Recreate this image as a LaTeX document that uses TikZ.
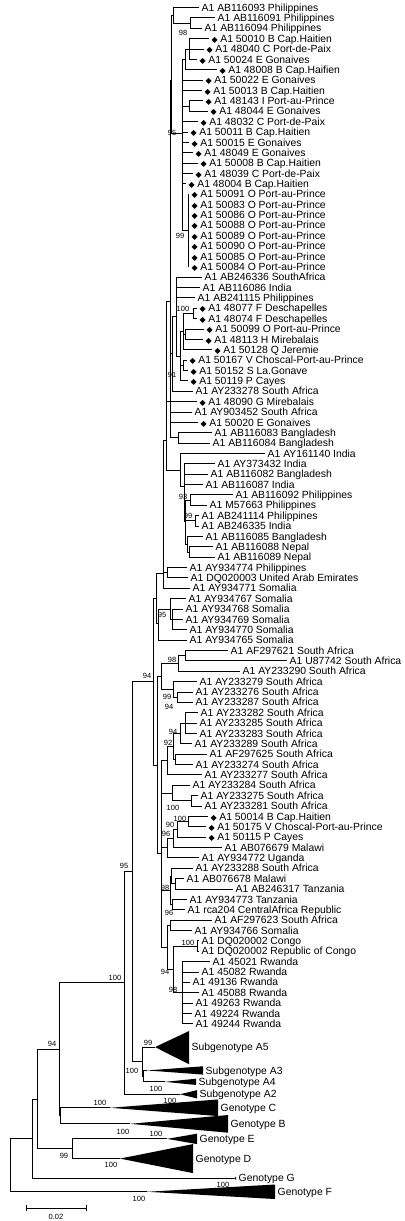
\documentclass[tikz,border=0pt]{standalone}
\usepackage{fontspec}
\setmainfont{Liberation Sans}
\newfontfamily\symbfont{DejaVu Sans}
\newcommand{\hd}{{\symbfont\fontsize{8}{8}\selectfont ◆}\hspace{2.5pt}}
\tikzset{
  %% branches of the tree
  br/.style    = {draw=black, line width=0.8pt},
  %% taxon labels at the tips
  tip/.style   = {anchor=west, inner xsep=2.5pt, inner ysep=0pt,
                  text height=7.4pt, text depth=0pt,
                  font=\fontsize{10.4}{10.4}\selectfont},
  %% bootstrap values
  bs/.style    = {inner sep=0pt, font=\fontsize{7.5}{7.5}\selectfont},
  %% collapsed clades
  clade/.style = {fill=black},
}
\begin{document}
\begin{tikzpicture}[x=1pt, y=-10.37pt]
\useasboundingbox (0,-0.723) rectangle (404,117.02);

%% tips, one per row
\foreach \i/\x/\t in {
  0/199/A1 AB116093 Philippines, 1/215/A1 AB116091 Philippines,
  2/202/A1 AB116094 Philippines, 3/209/\hd A1 50010 B Cap.Haitien,
  4/204/\hd A1 48040 C Port-de-Paix, 5/197/\hd A1 50024 E Gonaives,
  6/217/\hd A1 48008 B Cap.Haifien, 7/203/\hd A1 50022 E Gonaives,
  8/202/\hd A1 50013 B Cap.Haitien, 9/203/\hd A1 48143 I Port-au-Prince,
  10/208/\hd A1 48044 E Gonaives, 11/198/\hd A1 48032 C Port-de-Paix,
  12/188/\hd A1 50011 B Cap.Haitien, 13/189/\hd A1 50015 E Gonaives,
  14/193/\hd A1 48049 E Gonaives, 15/198/\hd A1 50008 B Cap.Haitien,
  16/193/\hd A1 48039 C Port-de-Paix, 17/186/\hd A1 48004 B Cap.Haitien,
  18/189/\hd A1 50091 O Port-au-Prince, 19/189/\hd A1 50083 O Port-au-Prince,
  20/189/\hd A1 50086 O Port-au-Prince, 21/189/\hd A1 50088 O Port-au-Prince,
  22/189/\hd A1 50089 O Port-au-Prince, 23/189/\hd A1 50090 O Port-au-Prince,
  24/189/\hd A1 50085 O Port-au-Prince, 25/189/\hd A1 50084 O Port-au-Prince,
  26/202/A1 AB246336 SouthAfrica, 27/200/A1 AB116086 India,
  28/195/A1 AB241115 Philippines, 29/197/\hd A1 48077 F Deschapelles,
  30/197/\hd A1 48074 F Deschapelles, 31/204/\hd A1 50099 O Port-au-Prince,
  32/203/\hd A1 48113 H Mirebalais, 33/212/\hd A1 50128 Q Jeremie,
  34/187/\hd A1 50167 V Choscal-Port-au-Prince, 35/188/\hd A1 50152 S La.Gonave,
  36/188/\hd A1 50119 P Cayes, 37/193/A1 AY233278 South Africa,
  38/197/\hd A1 48090 G Mirebalais, 39/192/A1 AY903452 South Africa,
  40/198/\hd A1 50020 E Gonaives, 41/212/A1 AB116083 Bangladesh,
  42/210/A1 AB116084 Bangladesh, 43/265/A1 AY161140 India,
  44/215/A1 AY373432 India, 45/208/A1 AB116082 Bangladesh,
  46/203/A1 AB116087 India, 47/233/A1 AB116092 Philippines,
  48/207/A1 M57663 Philippines, 49/199/A1 AB241114 Philippines,
  50/199/A1 AB246335 India, 51/203/A1 AB116085 Bangladesh,
  52/213/A1 AB116088 Nepal, 53/215/A1 AB116089 Nepal,
  54/187/A1 AY934774 Philippines, 55/188/A1 DQ020003 United Arab Emirates,
  56/190/A1 AY934771 Somalia, 57/186/A1 AY934767 Somalia,
  58/183/A1 AY934768 Somalia, 59/183/A1 AY934769 Somalia,
  60/187/A1 AY934770 Somalia, 61/187/A1 AY934765 Somalia,
  62/228/A1 AF297621 South Africa, 63/287/A1 U87742 South Africa,
  64/240/A1 AY233290 South Africa, 65/197/A1 AY233279 South Africa,
  66/193/A1 AY233276 South Africa, 67/193/A1 AY233287 South Africa,
  68/198/A1 AY233282 South Africa, 69/197/A1 AY233285 South Africa,
  70/197/A1 AY233283 South Africa, 71/192/A1 AY233289 South Africa,
  72/207/A1 AF297625 South Africa, 73/193/A1 AY233274 South Africa,
  74/202/A1 AY233277 South Africa, 75/190/A1 AY233284 South Africa,
  76/198/A1 AY233275 South Africa, 77/202/A1 AY233281 South Africa,
  78/208/\hd A1 50014 B Cap.Haitien, 79/206/\hd A1 50175 V Choscal-Port-au-Prince,
  80/206/\hd A1 50115 P Cayes, 81/222/A1 AB076679 Malawi,
  82/199/A1 AY934772 Uganda, 83/193/A1 AY233288 South Africa,
  84/184/A1 AB076678 Malawi, 85/233/A1 AB246317 Tanzania,
  86/187/A1 AY934773 Tanzania, 87/185/A1 rca204 CentralAfrica Republic,
  88/212/A1 AF297623 South Africa, 89/192/A1 AY934766 Somalia,
  90/199/A1 DQ020002 Congo, 91/199/A1 DQ020002 Republic of Congo,
  92/210/A1 45021 Rwanda, 93/199/A1 45082 Rwanda,
  94/190/A1 49136 Rwanda, 95/199/A1 45088 Rwanda,
  96/193/A1 49263 Rwanda, 97/192/A1 49224 Rwanda,
  98/193/A1 49244 Rwanda}
  \node[tip] (t\i) at (\x,\i) {\t};

%% collapsed clades
\coordinate (a5) at (155,100.25);
\fill[clade] (a5) -- (189,98.7) -- (189,101.9) -- cycle;
\node[tip] (la5) at (189,100.25) {Subgenotype A5};
\coordinate (a3) at (147,102.5);
\fill[clade] (a3) -- (203,102.1) -- (203,102.9) -- cycle;
\node[tip] (la3) at (203,102.5) {Subgenotype A3};
\coordinate (a4) at (165,103.6);
\fill[clade] (a4) -- (196,103.3) -- (196,103.9) -- cycle;
\node[tip] (la4) at (196,103.6) {Subgenotype A4};
\coordinate (a2) at (180,104.8);
\fill[clade] (a2) -- (197,104.4) -- (197,105.2) -- cycle;
\node[tip] (la2) at (197,104.8) {Subgenotype A2};
\coordinate (gc) at (110,106.1);
\fill[clade] (gc) -- (218,105.3) -- (218,106.9) -- cycle;
\node[tip] (lgc) at (218,106.1) {Genotype C};
\coordinate (gb) at (130,107.65);
\fill[clade] (gb) -- (228,106.8) -- (228,108.5) -- cycle;
\node[tip] (lgb) at (228,107.65) {Genotype B};
\coordinate (ge) at (167,109.1);
\fill[clade] (ge) -- (197,108.6) -- (197,109.6) -- cycle;
\node[tip] (lge) at (197,109.1) {Genotype E};
\coordinate (gd) at (120,111.0);
\fill[clade] (gd) -- (193,109.6) -- (193,112.4) -- cycle;
\node[tip] (lgd) at (193,111.0) {Genotype D};
\coordinate (gg) at (234,112.9);
\fill[clade] (gg) -- (236,112.75) -- (236,113.05) -- cycle;
\node[tip] (lgg) at (236,112.9) {Genotype G};
\coordinate (gf) at (147,114.2);
\fill[clade] (gf) -- (275,113.5) -- (275,114.9) -- cycle;
\node[tip] (lgf) at (275,114.2) {Genotype F};

%% internal nodes
\coordinate (p2) at (190,1.5);      \coordinate (p1) at (173,0.75);
\coordinate (h1a) at (189,4);       \coordinate (h1) at (185,5);
\coordinate (h2) at (189,9.5);      \coordinate (ho) at (188,21.5);
\coordinate (h) at (182,12.1);      \coordinate (u1) at (171,7.0);
\coordinate (des) at (193,29.5);    \coordinate (m185) at (185,31.5);
\coordinate (d183) at (183,31.25);  \coordinate (v183) at (183,34.5);
\coordinate (e180) at (180,33.6);   \coordinate (f176) at (176,29.8);
\coordinate (g172) at (172,33.4);   \coordinate (b170) at (170,28.3);
\coordinate (bd) at (178,41.5);
\coordinate (i4) at (190,47.5);     \coordinate (i5) at (195,49.5);
\coordinate (i7) at (189,52.5);     \coordinate (i6) at (187,51.75);
\coordinate (i3) at (185,49.6);     \coordinate (i2) at (184,46.2);
\coordinate (i1) at (180,44.6);     \coordinate (m166) at (166,41.7);
\coordinate (ae) at (167,54.5);     \coordinate (m163) at (163,54.6);
\coordinate (s2) at (172,59);       \coordinate (s1) at (170,58);
\coordinate (som) at (158,59.4);    \coordinate (up) at (156,57.0);
\coordinate (k1) at (185,62.5);     \coordinate (k98) at (178,63.25);
\coordinate (q2) at (177,66.5);     \coordinate (q) at (173,65.75);
\coordinate (kq) at (161,64.5);
\coordinate (r1) at (185,69);       \coordinate (r94) at (180,70);
\coordinate (r2) at (175,72.5);     \coordinate (r92) at (173,71.25);
\coordinate (r167) at (167,72.6);
\coordinate (w) at (191,76.5);      \coordinate (n172) at (172,75.75);
\coordinate (x100) at (188,78.5);   \coordinate (x90) at (177,79.25);
\coordinate (x96) at (173,80.1);    \coordinate (x167) at (167,81);
\coordinate (z2) at (175,84.5);     \coordinate (z1) at (171,83.75);
\coordinate (z3) at (172,86.5);     \coordinate (z) at (170,85.1);
\coordinate (cy1) at (170,88.5);    \coordinate (cg) at (197,90.5);
\coordinate (rw) at (182,95);       \coordinate (cr) at (173,92.75);
\coordinate (cy) at (167,90.6);     \coordinate (low) at (161,81.6);
\coordinate (n157) at (157,73.05);  \coordinate (a1) at (153,65.0);
\coordinate (na34) at (143.3,103.05); \coordinate (na345) at (142,101.65);
\coordinate (n132) at (132,83.3);   \coordinate (n124) at (124,94.05);
\coordinate (bc) at (60,106.87);    \coordinate (x59) at (59,100.46);
\coordinate (ed) at (72,110.05);    \coordinate (n37) at (37,105.25);
\coordinate (n32) at (32,109.1);    \coordinate (root) at (10,111.65);

\foreach \p/\c in {p1/t0, p1/p2, p2/t1, p2/t2,
    h1a/t3, h1a/t4, h1a/t5, h1/h1a, h1/t6, h2/t9, h2/t10,
    ho/t18, ho/t19, ho/t20, ho/t21, ho/t22, ho/t23, ho/t24, ho/t25,
    h/h1, h/t7, h/t8, h/h2, h/t11, h/t12, h/t13, h/t14, h/t15, h/t16,
    h/t17, h/ho, u1/p1, u1/h,
    des/t29, des/t30, m185/t31, m185/t32, d183/des, d183/m185, d183/t33,
    v183/t34, v183/t35, e180/d183, e180/v183, e180/t36,
    f176/t26, f176/t27, f176/t28, f176/e180, g172/f176, g172/t37,
    bd/t41, bd/t42,
    b170/u1, b170/g172, b170/t39, b170/t40, b170/bd,
    i4/t47, i4/t48, i5/t49, i5/t50, i7/t52, i7/t53, i6/t51, i6/i7,
    i3/i4, i3/i5, i3/i6, i2/t44, i2/t45, i2/t46, i2/i3, i1/t43, i1/i2,
    m166/b170, m166/t38, m166/i1,
    ae/t54, ae/t55, m163/m166, m163/ae, m163/t56,
    s2/t58, s2/t59, s2/t60, s1/t57, s1/s2, som/s1, som/t61,
    up/m163, up/som,
    k1/t62, k1/t63, k98/k1, k98/t64, q2/t66, q2/t67, q/t65, q/q2,
    kq/k98, kq/q,
    r1/t68, r1/t69, r1/t70, r94/r1, r94/t71, r2/t72, r2/t73,
    r92/r94, r92/r2, r167/r92, r167/t74, w/t76, w/t77, n172/t75, n172/w,
    x100/t78, x100/t79, x90/x100, x90/t80, x96/x90, x96/t81,
    x167/x96, x167/t82, z2/t84, z2/t85, z1/t83, z1/z2, z3/t86, z3/t87,
    z/z1, z/z3, cy1/t88, cy1/t89, cg/t90, cg/t91,
    rw/t92, rw/t93, rw/t94, rw/t95, rw/t96, rw/t97, rw/t98,
    cr/cg, cr/rw, cy/cy1, cy/cr,
    low/r167, low/n172, low/x167, low/z, low/cy,
    n157/kq, n157/low, a1/up, a1/n157,
    na34/a3, na34/a4, na345/a5, na345/na34,
    n132/a1, n132/na345, n124/n132, n124/a2,
    bc/gc, bc/gb, x59/n124, x59/bc, ed/ge, ed/gd,
    n37/x59, n37/ed, n32/n37, n32/gg, root/n32, root/gf}
  \draw[br] (\p) |- (\c);

%% bootstrap values
\foreach \n/\x/\y/\v in {1/183/2.46/98, 2/172/12.1/95, 3/180/22.0/99,
    4/183/29.1/100, 5/172/35.4/91, 6/183/47.2/93, 7/188/49.0/99,
    8/162/58.6/95, 9/147/64.5/94, 10/172/62.9/98, 11/167/66.5/99,
    12/169/67.4/94, 13/173/69.9/94, 14/168/70.9/92, 15/173/77.2/100,
    16/180/78.2/100, 17/170/78.8/90, 18/166/79.7/96, 19/124/82.8/95,
    20/165/84.9/98, 21/169/87.3/96, 22/188/90.2/100, 23/165/93.0/94,
    24/173/94.7/98, 25/115/93.6/100, 26/148/99.8/99, 27/132/102.5/100,
    28/156/104.3/100, 29/52/99.9/94, 30/100/105.6/100, 31/170/105.4/100,
    32/123/108.4/100, 33/156/108.6/100, 34/64/110.7/99, 35/111/111.6/100,
    36/223/113.5/100, 37/139/114.9/100}
  \node[bs] (b\n) at (\x,\y) {\v};

%% scale bar
\coordinate (sb0) at (26,115.77);
\coordinate (sb1) at (86,115.77);
\draw[br] (sb0) -- (sb1);
\draw[br] ([yshift=3pt]sb0) -- ([yshift=-3pt]sb0);
\draw[br] ([yshift=3pt]sb1) -- ([yshift=-3pt]sb1);
\node[bs] (sbl) at (56,116.6) {0.02};

\end{tikzpicture}
\end{document}
